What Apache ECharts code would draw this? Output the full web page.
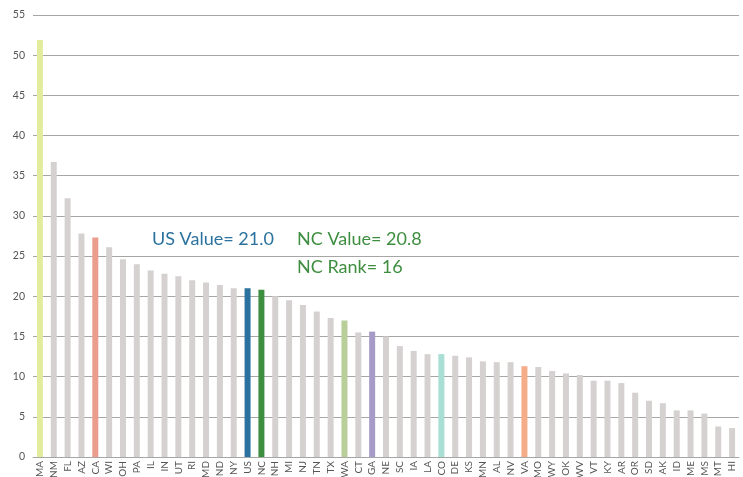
<!DOCTYPE html>
<html>
<head>
<meta charset="utf-8">
<script src="https://cdn.jsdelivr.net/npm/echarts@6/dist/echarts.min.js"></script>
<style>
  html, body { margin: 0; padding: 0; background: #fff; }
  #chart { width: 743px; height: 477px; }
</style>
</head>
<body>
<div id="chart"></div>
<script>
// States ranked by value, with the US average included among them
const states = ['MA','NM','FL','AZ','CA','WI','OH','PA','IL','IN','UT','RI','MD','ND','NY','US','NC',
  'NH','MI','NJ','TN','TX','WA','CT','GA','NE','SC','IA','LA','CO','DE','KS','MN','AL','NV','VA',
  'MO','WY','OK','WV','VT','KY','AR','OR','SD','AK','ID','ME','MS','MT','HI'];
const values = [51.9, 36.7, 32.2, 27.8, 27.3, 26.1, 24.6, 24.0, 23.2, 22.8, 22.5, 22.0, 21.7, 21.4, 21.0, 21.0, 20.8,
  20.0, 19.5, 18.9, 18.1, 17.3, 17.0, 15.5, 15.6, 15.0, 13.8, 13.2, 12.8, 12.8, 12.6, 12.4, 11.9, 11.8, 11.8, 11.3,
  11.2, 10.7, 10.4, 10.2, 9.5, 9.5, 9.2, 8.0, 7.0, 6.7, 5.8, 5.8, 5.4, 3.8, 3.6];
const yTicks = [0, 5, 10, 15, 20, 25, 30, 35, 40, 45, 50, 55];
const nationRank = 16;

// Highlight colours for selected states; all others are neutral gray
const highlight = {
  MA: '#e3ec9c', CA: '#eb9d8d', US: '#2b729e', NC: '#3e8e3f',
  WA: '#b8cf9a', GA: '#a69bc6', CO: '#a9ded4', VA: '#f5ad89'
};
const baseColor = '#d6d1d1';
const emphasized = ['US', 'NC'];

const barData = values.map((v, i) => {
  const s = states[i];
  const c = highlight[s] || baseColor;
  const style = { color: c };
  if (emphasized.includes(s)) {
    // slightly wider bars for the US and NC
    style.borderColor = c;
    style.borderWidth = 2.5;
  }
  return { value: v, itemStyle: style };
});

const usVal = values[states.indexOf('US')];
const ncVal = values[states.indexOf('NC')];

const chart = echarts.init(document.getElementById('chart'), null, { renderer: 'canvas' });
const font = '"Source Sans Pro", Lato, "Open Sans", sans-serif';

chart.setOption({
  animation: false,
  grid: { left: 33, right: 4, top: 15, bottom: 20, containLabel: false, outerBoundsMode: 'none' },
  xAxis: {
    type: 'category',
    data: states,
    axisLine: { show: true, lineStyle: { color: '#a6a6a6', width: 1 } },
    axisTick: { show: false },
    axisLabel: {
      rotate: 90, interval: 0, fontSize: 10, color: '#555', margin: 4,
      fontFamily: 'Lato, sans-serif'
    }
  },
  yAxis: {
    type: 'value',
    min: yTicks[0], max: yTicks[yTicks.length - 1], interval: 5,
    axisLine: { show: false },
    axisTick: { show: false },
    splitLine: { lineStyle: { color: '#a6a6a6', width: 1 } },
    axisLabel: { fontSize: 10.5, color: '#555', margin: 8, fontFamily: 'Lato, sans-serif' }
  },
  series: [{
    type: 'bar',
    data: barData,
    barWidth: 6
  }],
  graphic: [
    { type: 'text', left: 152, top: 230,
      style: { text: 'US Value= ' + usVal.toFixed(1), fill: '#2b729e', font: '18px ' + font } },
    { type: 'text', left: 297, top: 230,
      style: { text: 'NC Value= ' + ncVal.toFixed(1), fill: '#3e8e3f', font: '18px ' + font } },
    { type: 'text', left: 297, top: 258,
      style: { text: 'NC Rank= ' + nationRank, fill: '#3e8e3f', font: '18px ' + font } }
  ]
});
</script>
</body>
</html>
